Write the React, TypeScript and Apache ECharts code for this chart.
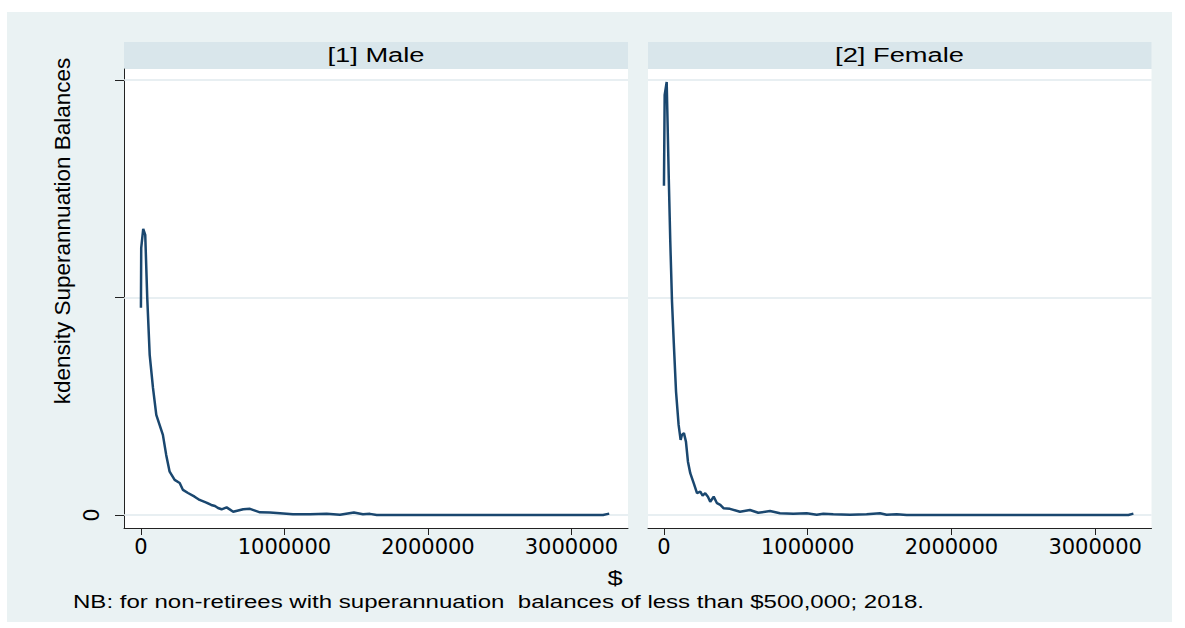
import React, { useEffect, useRef } from "react";
import * as echarts from "echarts";

// Male kernel density (x in $, y in density units ×scale)
const maleX = [0, 2000, 16000, 30000, 44000, 61000, 84000, 107000, 130000, 153000, 176000, 200000, 235000, 270000, 293000, 328000, 374000, 409000, 456000, 490000, 516000, 537000, 562000, 597000, 643000, 713000, 760000, 829000, 899000, 969000, 1059000, 1178000, 1294000, 1387000, 1484000, 1547000, 1596000, 1643000, 3220000, 3263000];
const maleY = [0.953, 1.228, 1.315, 1.287, 0.998, 0.736, 0.584, 0.46, 0.414, 0.368, 0.276, 0.199, 0.161, 0.147, 0.115, 0.101, 0.084, 0.069, 0.057, 0.046, 0.041, 0.032, 0.026, 0.035, 0.015, 0.026, 0.028, 0.012, 0.011, 0.008, 0.003, 0.003, 0.006, 0.001, 0.011, 0.003, 0.005, 0.0, 0.0, 0.006];

// Female kernel density
const femaleX = [0, 5000, 19000, 23000, 33000, 44000, 56000, 68000, 84000, 102000, 116000, 125000, 139000, 153000, 167000, 183000, 207000, 230000, 253000, 269000, 287000, 306000, 322000, 346000, 369000, 392000, 414000, 459000, 529000, 598000, 656000, 738000, 807000, 900000, 993000, 1063000, 1109000, 1178000, 1294000, 1410000, 1503000, 1549000, 1619000, 1689000, 3231000, 3266000];
const femaleY = [1.513, 1.931, 1.99, 1.87, 1.563, 1.257, 0.981, 0.797, 0.567, 0.414, 0.345, 0.368, 0.376, 0.337, 0.245, 0.192, 0.146, 0.1, 0.107, 0.089, 0.1, 0.084, 0.061, 0.084, 0.054, 0.046, 0.031, 0.028, 0.015, 0.023, 0.01, 0.018, 0.008, 0.005, 0.008, 0.001, 0.006, 0.003, 0.001, 0.003, 0.008, 0.001, 0.003, 0.0, 0.0, 0.006];

const panelTitles = ["[1] Male", "[2] Female"];
const xTicks = [0, 1000000, 2000000, 3000000];
const yTicks = [0, 1, 2];
const yLabelTicks = [0];
const yTitle = "kdensity Superannuation Balances";
const xTitle = "$";
const note = "NB: for non-retirees with superannuation  balances of less than $500,000; 2018.";

const FONT = "'Liberation Sans', Arial, Helvetica, sans-serif";
const TICKFONT = "'DejaVu Sans', 'Liberation Sans', Arial, sans-serif";
const LINE = "#1a476f";
const BG = "#eaf2f3";
const STRIP = "#d9e6eb";
const GRID = "#e1eaee";

export default function App() {
  const ref = useRef<HTMLDivElement>(null);
  useEffect(() => {
    if (!ref.current) return;
    const chart = echarts.init(ref.current, null, { renderer: "svg" });
    const zip = (xs: number[], ys: number[]) => xs.map((x, i) => [x, ys[i]]);
    const grids = [
      { left: 124, top: 69, width: 504, height: 459 },
      { left: 648, top: 69, width: 503.5, height: 459 },
    ];
    const xMins = [-118000, -111000];
    const xMaxs = [3394000, 3392000];
    const option: any = {
      animation: false,
      graphic: [
        { type: "rect", z: -100, shape: { x: 7, y: 12, width: 1165, height: 610 }, style: { fill: BG } },
        { type: "rect", z: -50, shape: { x: 124, y: 42, width: 504, height: 27 }, style: { fill: STRIP } },
        { type: "rect", z: -50, shape: { x: 648, y: 42, width: 503.5, height: 27 }, style: { fill: STRIP } },
        { type: "text", x: 376, y: 55, scaleX: 1.3, style: { text: panelTitles[0], font: `21px ${FONT}`, fill: "#000", textAlign: "center", textVerticalAlign: "middle" } },
        { type: "text", x: 899.5, y: 55, scaleX: 1.3, style: { text: panelTitles[1], font: `21px ${FONT}`, fill: "#000", textAlign: "center", textVerticalAlign: "middle" } },
        { type: "text", x: 62, y: 231, rotation: Math.PI / 2, style: { text: yTitle, font: `22.5px ${FONT}`, fill: "#000", textAlign: "center", textVerticalAlign: "middle" } },
        { type: "text", x: 615, y: 578, scaleX: 1.3, style: { text: xTitle, font: `21px ${FONT}`, fill: "#000", textAlign: "center", textVerticalAlign: "middle" } },
        { type: "text", x: 73, y: 602, scaleX: 1.3, style: { text: note, font: `18.5px ${FONT}`, fill: "#000", textAlign: "left", textVerticalAlign: "middle" } },
      ],
      grid: grids.map((g) => ({ ...g, show: true, backgroundColor: "#ffffff", borderWidth: 0 })),
      xAxis: [0, 1].map((i) => ({
        type: "value",
        gridIndex: i,
        min: xMins[i],
        max: xMaxs[i],
        axisLine: { show: true, onZero: false, lineStyle: { color: "#222", width: 1 } },
        axisTick: { show: true, customValues: xTicks, length: 7, lineStyle: { color: "#222" } },
        axisLabel: { customValues: xTicks, formatter: (v: number) => String(v), fontFamily: TICKFONT, fontSize: 21, color: "#000", margin: 8 },
        splitLine: { show: false },
      })),
      yAxis: [
        {
          type: "value",
          gridIndex: 0,
          min: -0.06,
          max: 2.05,
          axisLine: { show: true, onZero: false, lineStyle: { color: "#222", width: 1 } },
          axisTick: { show: true, customValues: yTicks, length: 9, lineStyle: { color: "#222" } },
          axisLabel: { customValues: yLabelTicks, rotate: 90, fontFamily: TICKFONT, fontSize: 21, color: "#000", margin: 22 },
          splitLine: { show: false },
        },
        {
          type: "value",
          gridIndex: 1,
          min: -0.06,
          max: 2.05,
          axisLine: { show: false, onZero: false },
          axisTick: { show: false },
          axisLabel: { show: false },
          splitLine: { show: false },
        },
      ],
      series: [
        ...[0, 1].map((i) => ({
          type: "line",
          xAxisIndex: i,
          yAxisIndex: i,
          data: [],
          z: 1,
          silent: true,
          markLine: {
            z: 1,
            silent: true,
            symbol: "none",
            label: { show: false },
            lineStyle: { color: GRID, width: 1.5, type: "solid" },
            data: yTicks.map((v) => ({ yAxis: v })),
          },
        })),
        {
          type: "line",
          name: panelTitles[0],
          xAxisIndex: 0,
          yAxisIndex: 0,
          z: 3,
          showSymbol: false,
          data: zip(maleX, maleY),
          lineStyle: { color: LINE, width: 2.5 },
        },
        {
          type: "line",
          name: panelTitles[1],
          xAxisIndex: 1,
          yAxisIndex: 1,
          z: 3,
          showSymbol: false,
          data: zip(femaleX, femaleY),
          lineStyle: { color: LINE, width: 2.5 },
        },
      ],
    };
    chart.setOption(option);
    return () => chart.dispose();
  }, []);
  return <div ref={ref} style={{ position: "absolute", left: 0, top: 0, width: 1185, height: 628 }} />;
}
